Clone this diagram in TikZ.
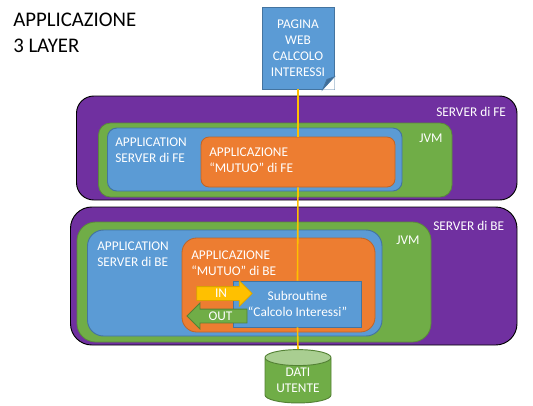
\documentclass[tikz,border=0pt]{standalone}
\usepackage{fontspec}
\setmainfont{Carlito}
\usetikzlibrary{arrows.meta,positioning,fit,calc,shapes.geometric,shapes.arrows}
\definecolor{srvpurple}{HTML}{7030A0}
\definecolor{jvmgreen}{HTML}{70AD47}
\definecolor{asblue}{HTML}{5B9BD5}
\definecolor{apporange}{HTML}{ED7D31}
\definecolor{linkyellow}{HTML}{FFC000}

\begin{document}
\begin{tikzpicture}[
  x=0.75pt,y=-0.75pt,
  font=\fontsize{10}{12}\selectfont,
  server/.style={draw=black,line width=0.7pt,fill=srvpurple},
  jvm/.style={draw=jvmgreen!80!black,line width=0.6pt,fill=jvmgreen},
  appserver/.style={draw=asblue!75!black,line width=0.7pt,fill=asblue},
  application/.style={draw=apporange!80!black,line width=0.6pt,fill=apporange},
  subr/.style={draw=asblue!75!black,line width=0.7pt,fill=asblue},
  label/.style={text=white,align=left,inner sep=0pt,anchor=west},
  link/.style={draw=linkyellow,line width=1.2pt},
  moveto/.style={single arrow,single arrow head extend=4.5pt,shape border uses incircle=false,
    single arrow head indent=0pt,text height=8pt,text depth=1.75pt,inner xsep=0pt,inner ysep=0pt,
    minimum height=41.5pt,line width=0.6pt,text=white}]
\useasboundingbox (0,0) rectangle (533,405);
\fill[white] (0,0) rectangle (533,405);

\node[label,text=black,font=\fontsize{15.6}{19.5}\selectfont] (title) at (13,33) {APPLICAZIONE\\3 LAYER};

% front end
\draw[server,rounded corners=13pt] (76.5,96) rectangle (517,200);
\draw[jvm,rounded corners=9pt] (98.5,123) rectangle (452,197);
\draw[appserver,rounded corners=7pt] (107.5,128) rectangle (402,191);
\node[label] (fesrvlab) at (436,112) {SERVER di FE};
\node[label] (fejvmlab) at (419,138.5) {JVM};
\node[label] (feaslab) at (115,150) {APPLICATION\\SERVER di FE};

% back end
\draw[server,rounded corners=16pt] (70.5,207) rectangle (517,345);
\draw[jvm,rounded corners=14pt] (77,222) rectangle (431,342);
\draw[appserver,rounded corners=12pt] (87.5,230) rectangle (382,336);
\draw[application,rounded corners=11pt] (182,238) rectangle (375,332);
\node[label] (besrvlab) at (433,226) {SERVER di BE};
\node[label] (bejvmlab) at (396,240) {JVM};
\node[label] (beaslab) at (97,254) {APPLICATION\\SERVER di BE};
\node[label] (beapplab) at (191,263.5) {APPLICAZIONE\\“MUTUO” di BE};

% boxes joined by the link
\node[draw=asblue!75!black,line width=0.7pt,fill=asblue,minimum width=54pt,minimum height=61.5pt,
  text=white,align=center,inner sep=0pt] (page) at (298,48)
  {PAGINA\\WEB\\CALCOLO\\INTERESSI};
\node[application,rounded corners=6pt,minimum width=145.5pt,minimum height=37.5pt] (feapp) at (298,162) {};
\node[label] (feapplab) at (209,160) {APPLICAZIONE\\“MUTUO” di FE};
\node[subr,minimum width=96.5pt,minimum height=34.5pt,inner sep=0pt,text=white,align=center] (sub) at (297.5,304)
  {Subroutine\\“Calcolo Interessi”};
\node[cylinder,shape border rotate=90,aspect=0.65,draw=jvmgreen!75!black,line width=0.7pt,
  cylinder uses custom fill,cylinder body fill=jvmgreen,cylinder end fill=jvmgreen!60!white,
  minimum width=49.5pt,minimum height=40pt,inner sep=0pt] (dati) at (298,380.5) {\phantom{DATI}};
\node[text=white,align=center,inner sep=0pt] (datilab) at (298,380) {DATI\\UTENTE};

\draw[link] (page.south) -- (feapp.north);
\draw[link] (feapp.south) -- (sub.north);
\draw[link] (sub.south) -- (dati.north);

% dog ear of the page
\fill[white] (334.5,77) -- (334.5,89.5) -- (323,89.5) -- cycle;
\draw[draw=asblue!75!black,line width=0.7pt,fill=asblue!70!black] (323,89) -- (327,79.5) -- (334,77) -- cycle;

\node[moveto,draw=linkyellow!85!black,fill=linkyellow] (in) at (221,293.5) {IN};
\node[moveto,shape border rotate=180,minimum height=45pt,draw=jvmgreen!75!black,fill=jvmgreen] (out) at (220.5,316) {OUT};
\end{tikzpicture}
\end{document}
